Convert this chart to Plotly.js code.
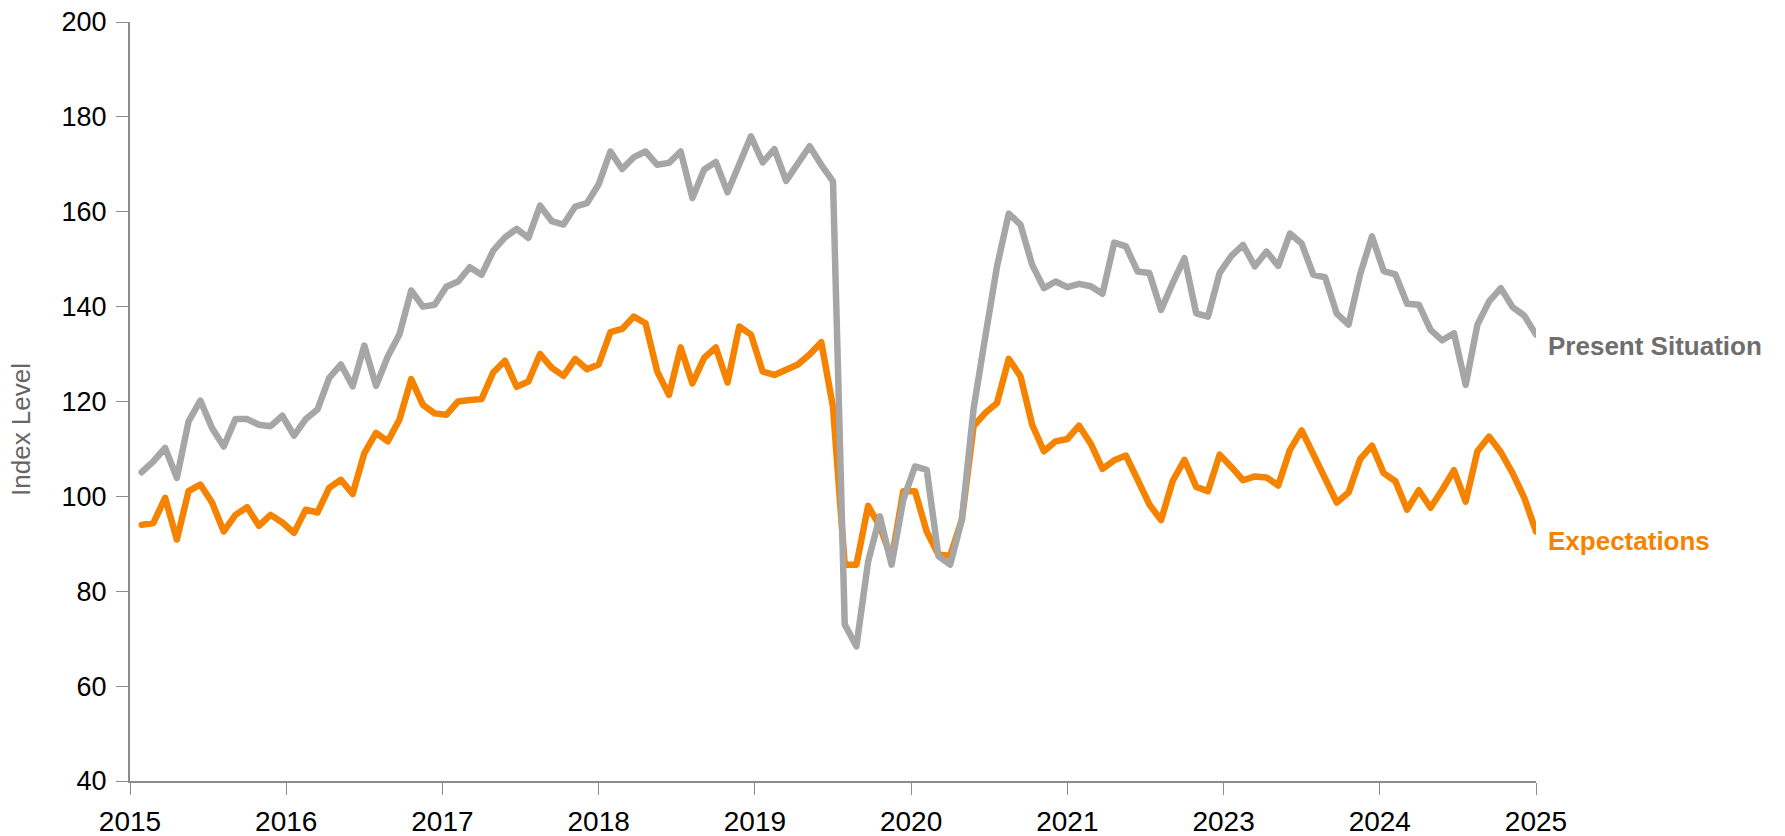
<!DOCTYPE html>
<html>
<head>
<meta charset="utf-8">
<script src="https://cdn.plot.ly/plotly-3.0.1.min.js"></script>
<style>
  html, body { margin: 0; padding: 0; background: #fff; }
  #chart { width: 1785px; height: 836px; }
  .js-line { stroke-linejoin: round; stroke-linecap: round; }
</style>
</head>
<body>
<div id="chart"></div>
<script>
// Tick labels as printed on the reference x axis (10 evenly spaced labels)
const tickLabels = ['2015', '2016', '2017', '2018', '2019', '2020', '2021', '2023', '2024', '2025'];

const presentSituation = [
  105.1, 107.4, 110.2, 103.9, 115.8, 120.2, 114.4, 110.5, 116.3, 116.3, 115.1, 114.8,
  117.0, 112.8, 116.3, 118.3, 125.0, 127.8, 123.2, 131.8, 123.3, 129.5, 134.2, 143.4,
  140.0, 140.4, 144.2, 145.3, 148.3, 146.7, 151.8, 154.6, 156.4, 154.5, 161.3, 158.0,
  157.3, 161.1, 161.8, 165.8, 172.7, 169.0, 171.5, 172.7, 169.9, 170.3, 172.7, 162.9,
  168.9, 170.5, 164.1, 170.3, 175.9, 170.4, 173.2, 166.5, 169.9, 173.8, 169.9, 166.4,
  73.0, 68.4, 86.3, 95.8, 85.6, 99.3, 106.3, 105.6, 87.4, 85.6, 95.1, 118.5,
  133.7, 148.5, 159.6, 157.3, 148.8, 143.9, 145.3, 144.1, 144.8, 144.3, 142.7, 153.5,
  152.7, 147.4, 147.1, 139.3, 145.0, 150.2, 138.6, 137.9, 147.1, 150.7, 153.0, 148.5,
  151.6, 148.6, 155.4, 153.3, 146.7, 146.2, 138.5, 136.2, 146.9, 154.8, 147.5, 146.8,
  140.6, 140.4, 135.1, 132.9, 134.4, 123.5, 136.2, 141.1, 143.9, 139.9, 138.1, 134.1
];

const expectations = [
  94.0, 94.4, 99.7, 90.9, 101.1, 102.5, 98.7, 92.6, 96.1, 97.7, 93.8, 96.1,
  94.5, 92.3, 97.2, 96.6, 101.8, 103.5, 100.5, 109.1, 113.4, 111.6, 116.2, 124.7,
  119.3, 117.5, 117.2, 120.0, 120.3, 120.5, 126.1, 128.6, 123.1, 124.2, 130.0, 127.1,
  125.4, 129.0, 126.8, 127.8, 134.6, 135.3, 137.9, 136.5, 126.3, 121.4, 131.4, 123.8,
  129.2, 131.4, 124.0, 135.8, 134.1, 126.3, 125.6, 126.6, 127.8, 129.9, 132.5, 118.8,
  85.6, 85.6, 98.0, 93.7, 86.7, 101.1, 101.1, 92.6, 87.7, 87.5, 95.1, 114.8,
  117.6, 119.7, 129.0, 125.3, 115.1, 109.5, 111.6, 112.1, 114.9, 111.1, 105.8, 107.6,
  108.6, 103.5, 98.3, 95.0, 103.3, 107.7, 102.0, 101.1, 108.8, 106.2, 103.4, 104.2,
  104.0, 102.3, 109.8, 113.9, 108.8, 103.9, 98.7, 100.8, 107.9, 110.7, 104.9, 103.2,
  97.2, 101.3, 97.6, 101.4, 105.5, 98.9, 109.5, 112.6, 109.3, 104.9, 99.7, 92.6
];

const yTicks = [40, 60, 80, 100, 120, 140, 160, 180, 200];

// month index (1..N)
const monthIndex = presentSituation.map((_, i) => i + 1);
const N = presentSituation.length;
const tickPositions = tickLabels.map((_, k) => k * N / (tickLabels.length - 1));

const ORANGE = '#f58300';
const GREY = '#a6a6a6';
const FONT = 'Liberation Sans, Arial, Helvetica, sans-serif';

const traces = [
  {
    x: monthIndex, y: expectations, type: 'scatter', mode: 'lines',
    name: 'Expectations', line: { color: ORANGE, width: 6.5 }
  },
  {
    x: monthIndex, y: presentSituation, type: 'scatter', mode: 'lines',
    name: 'Present Situation', line: { color: GREY, width: 6.5 }
  }
];

const axisCommon = {
  showline: true, linecolor: '#8c8c8c', linewidth: 2,
  ticks: 'outside', ticklen: 12, tickcolor: '#8c8c8c', tickwidth: 1,
  showgrid: false, zeroline: false
};

const layout = {
  width: 1785, height: 836,
  margin: { l: 130, r: 249, t: 22, b: 55 },
  paper_bgcolor: '#ffffff', plot_bgcolor: '#ffffff',
  showlegend: false,
  font: { family: FONT },
  xaxis: Object.assign({}, axisCommon, {
    range: [0, N],
    tickmode: 'array', tickvals: tickPositions, ticktext: tickLabels,
    tickfont: { family: FONT, size: 28, color: '#000000' },
    ticklabelstandoff: 2
  }),
  yaxis: Object.assign({}, axisCommon, {
    range: [40, 200],
    tickmode: 'array', tickvals: yTicks, ticktext: yTicks.map(String),
    tickfont: { family: FONT, size: 27, color: '#000000' },
    ticklabelstandoff: 4
  }),
  annotations: [
    {
      xref: 'paper', x: 0, xshift: -109, xanchor: 'center',
      yref: 'paper', y: 0.4625, yanchor: 'middle',
      textangle: -90,
      text: 'Index Level', showarrow: false,
      font: { family: FONT, size: 26, color: '#666666' }
    },
    {
      xref: 'paper', x: 1, xanchor: 'left', xshift: 10,
      yref: 'y', y: 131.8, yanchor: 'middle',
      text: '<b>Present Situation</b>', showarrow: false,
      font: { family: FONT, size: 26, color: '#6e6e6e' }
    },
    {
      xref: 'paper', x: 1, xanchor: 'left', xshift: 10,
      yref: 'y', y: 90.5, yanchor: 'middle',
      text: '<b>Expectations</b>', showarrow: false,
      font: { family: FONT, size: 26, color: ORANGE }
    }
  ]
};

Plotly.newPlot('chart', traces, layout, { staticPlot: true, displayModeBar: false });
</script>
</body>
</html>
